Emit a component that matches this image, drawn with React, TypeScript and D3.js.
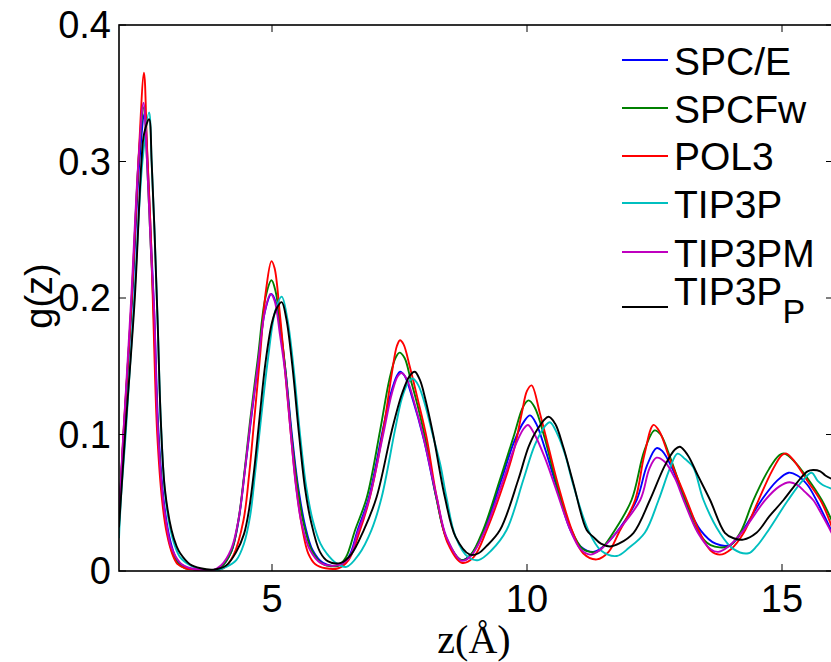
import React from "react";
import * as d3 from "d3";

type Pt = [number, number];

const seriesNames = ["SPC/E", "SPCFw", "POL3", "TIP3P", "TIP3PM", "TIP3P_P"];
const seriesColors = ["#0000ff", "#008000", "#ff0000", "#00bfbf", "#bf00bf", "#000000"];
const xTicks = [5, 10, 15];
const yTicks = [0, 0.1, 0.2, 0.3, 0.4];
const yTickLabels = ["0", "0.1", "0.2", "0.3", "0.4"];

const spce: Pt[] = [[2.0,0.04],[2.09,0.1],[2.26,0.2],[2.4,0.3],[2.5,0.335],[2.56,0.3],[2.63,0.24],[2.69,0.19],[2.77,0.105],[2.87,0.054],[2.96,0.03],[3.05,0.016],[3.15,0.007],[3.3,0.003],[3.5,0.001],[3.75,0.0],[4.0,0.003],[4.2,0.014],[4.34,0.036],[4.47,0.074],[4.57,0.105],[4.72,0.15],[4.86,0.19],[4.99,0.203],[5.08,0.196],[5.18,0.172],[5.27,0.145],[5.39,0.1],[5.5,0.065],[5.65,0.033],[5.8,0.015],[6.0,0.006],[6.3,0.004],[6.5,0.01],[6.68,0.03],[6.9,0.054],[7.17,0.103],[7.33,0.13],[7.45,0.143],[7.51,0.146],[7.6,0.143],[7.75,0.127],[7.98,0.096],[8.22,0.054],[8.42,0.024],[8.7,0.008],[8.9,0.012],[9.16,0.03],[9.5,0.067],[9.75,0.095],[9.95,0.11],[10.06,0.114],[10.18,0.108],[10.35,0.09],[10.57,0.063],[10.85,0.03],[11.05,0.018],[11.3,0.014],[11.5,0.018],[11.75,0.028],[12.15,0.052],[12.35,0.077],[12.54,0.09],[12.65,0.088],[12.85,0.075],[13.1,0.052],[13.4,0.03],[13.7,0.02],[13.98,0.019],[14.2,0.028],[14.6,0.052],[14.9,0.066],[15.13,0.072],[15.3,0.07],[15.5,0.063],[15.7,0.05],[16,0.027]];

const spcfw: Pt[] = [[2.0,0.035],[2.09,0.1],[2.25,0.2],[2.4,0.31],[2.49,0.34],[2.55,0.3],[2.62,0.24],[2.68,0.19],[2.76,0.105],[2.86,0.052],[2.95,0.028],[3.05,0.013],[3.15,0.006],[3.3,0.002],[3.5,0.001],[3.75,0],[4.0,0.003],[4.2,0.014],[4.34,0.037],[4.47,0.076],[4.57,0.11],[4.72,0.155],[4.87,0.2],[4.99,0.213],[5.07,0.205],[5.17,0.178],[5.27,0.145],[5.38,0.1],[5.5,0.062],[5.62,0.035],[5.78,0.015],[6.0,0.005],[6.3,0.004],[6.45,0.01],[6.63,0.03],[6.86,0.054],[7.12,0.103],[7.3,0.14],[7.42,0.156],[7.5,0.16],[7.6,0.156],[7.72,0.14],[7.85,0.122],[8.0,0.098],[8.22,0.054],[8.42,0.024],[8.72,0.008],[8.9,0.012],[9.14,0.03],[9.47,0.067],[9.75,0.1],[9.92,0.12],[10.03,0.125],[10.15,0.12],[10.35,0.097],[10.57,0.065],[10.85,0.032],[11.1,0.016],[11.37,0.014],[11.5,0.018],[11.69,0.028],[12.05,0.052],[12.3,0.088],[12.5,0.103],[12.62,0.1],[12.8,0.084],[13.1,0.052],[13.35,0.029],[13.6,0.019],[13.95,0.018],[14.18,0.028],[14.44,0.052],[14.75,0.075],[14.95,0.085],[15.05,0.086],[15.25,0.08],[15.5,0.068],[15.78,0.052],[16,0.035]];

const pol3: Pt[] = [[2.0,0.035],[2.085,0.1],[2.17,0.15],[2.25,0.2],[2.38,0.3],[2.49,0.365],[2.55,0.31],[2.62,0.25],[2.67,0.19],[2.75,0.1],[2.85,0.05],[2.94,0.027],[3.05,0.012],[3.15,0.005],[3.3,0.002],[3.5,0.001],[3.8,0],[4.05,0.002],[4.25,0.012],[4.44,0.037],[4.55,0.07],[4.65,0.11],[4.76,0.155],[4.88,0.205],[4.99,0.227],[5.05,0.222],[5.15,0.19],[5.26,0.145],[5.37,0.1],[5.48,0.06],[5.6,0.03],[5.71,0.013],[5.85,0.005],[6.05,0.002],[6.3,0.002],[6.5,0.008],[6.7,0.027],[6.92,0.054],[7.18,0.103],[7.35,0.145],[7.45,0.165],[7.51,0.169],[7.58,0.166],[7.7,0.15],[7.85,0.127],[8.03,0.098],[8.23,0.054],[8.45,0.02],[8.72,0.006],[8.95,0.01],[9.21,0.03],[9.57,0.067],[9.76,0.091],[9.9,0.116],[10.0,0.132],[10.09,0.136],[10.25,0.116],[10.42,0.091],[10.61,0.063],[10.88,0.03],[11.1,0.013],[11.37,0.0085],[11.6,0.014],[11.8,0.028],[12.12,0.052],[12.3,0.085],[12.48,0.107],[12.6,0.102],[12.8,0.082],[13.13,0.052],[13.39,0.028],[13.6,0.015],[13.78,0.012],[14.0,0.016],[14.25,0.028],[14.54,0.052],[14.8,0.073],[15.0,0.085],[15.09,0.086],[15.25,0.08],[15.5,0.066],[15.78,0.05],[16,0.03]];

const tip3p: Pt[] = [[2.0,0.024],[2.04,0.054],[2.13,0.1],[2.3,0.2],[2.46,0.3],[2.59,0.336],[2.64,0.3],[2.7,0.245],[2.76,0.18],[2.82,0.11],[2.9,0.058],[3.0,0.032],[3.1,0.018],[3.2,0.01],[3.4,0.004],[3.6,0.001],[3.85,0],[4.1,0.003],[4.3,0.008],[4.45,0.02],[4.57,0.04],[4.67,0.072],[4.78,0.11],[4.92,0.155],[5.06,0.19],[5.19,0.201],[5.3,0.185],[5.42,0.15],[5.55,0.1],[5.67,0.062],[5.8,0.037],[5.95,0.02],[6.07,0.013],[6.25,0.006],[6.46,0.003],[6.7,0.012],[6.95,0.03],[7.15,0.054],[7.41,0.103],[7.55,0.127],[7.67,0.138],[7.76,0.141],[7.87,0.136],[8.0,0.122],[8.15,0.1],[8.3,0.078],[8.42,0.054],[8.6,0.025],[8.85,0.01],[9.05,0.008],[9.3,0.015],[9.6,0.03],[9.93,0.067],[10.15,0.092],[10.35,0.106],[10.45,0.109],[10.6,0.1],[10.75,0.085],[10.9,0.064],[11.2,0.03],[11.45,0.015],[11.76,0.011],[12.0,0.017],[12.31,0.028],[12.58,0.052],[12.8,0.075],[12.95,0.086],[13.1,0.082],[13.26,0.076],[13.46,0.052],[13.78,0.028],[14.05,0.016],[14.34,0.013],[14.5,0.018],[14.7,0.028],[15.12,0.052],[15.4,0.066],[15.58,0.072],[15.7,0.066],[15.8,0.063],[16,0.06]];

const tip3pm: Pt[] = [[2.0,0.042],[2.085,0.1],[2.24,0.2],[2.38,0.3],[2.48,0.343],[2.55,0.3],[2.62,0.24],[2.69,0.19],[2.76,0.105],[2.86,0.054],[2.95,0.03],[3.02,0.018],[3.2,0.006],[3.4,0.002],[3.6,0.001],[3.8,0],[4.0,0.004],[4.2,0.016],[4.34,0.037],[4.47,0.074],[4.58,0.11],[4.72,0.15],[4.86,0.19],[4.97,0.203],[5.05,0.198],[5.16,0.172],[5.26,0.145],[5.37,0.1],[5.47,0.062],[5.58,0.035],[5.75,0.015],[5.95,0.006],[6.25,0.004],[6.5,0.009],[6.68,0.028],[6.9,0.052],[7.18,0.1],[7.35,0.13],[7.47,0.143],[7.55,0.145],[7.65,0.14],[7.8,0.122],[7.97,0.098],[8.23,0.054],[8.42,0.025],[8.72,0.0075],[8.9,0.011],[9.18,0.03],[9.52,0.065],[9.75,0.09],[9.93,0.104],[10.02,0.107],[10.15,0.1],[10.35,0.083],[10.55,0.062],[10.85,0.03],[11.05,0.016],[11.24,0.012],[11.45,0.016],[11.75,0.028],[12.22,0.052],[12.4,0.075],[12.54,0.083],[12.7,0.08],[12.9,0.068],[13.07,0.052],[13.35,0.028],[13.6,0.016],[13.75,0.014],[13.95,0.018],[14.25,0.03],[14.67,0.052],[14.95,0.062],[15.15,0.065],[15.3,0.063],[15.45,0.058],[15.61,0.052],[15.8,0.04],[16,0.026]];

const tip3pP: Pt[] = [[2.0,0.032],[2.12,0.1],[2.31,0.2],[2.44,0.3],[2.49,0.32],[2.59,0.331],[2.64,0.3],[2.7,0.245],[2.76,0.18],[2.82,0.11],[2.9,0.06],[3.03,0.03],[3.13,0.018],[3.2,0.013],[3.39,0.005],[3.6,0.002],[3.85,0.001],[4.1,0.004],[4.3,0.014],[4.45,0.027],[4.55,0.045],[4.65,0.074],[4.75,0.11],[4.87,0.152],[5.0,0.182],[5.1,0.193],[5.19,0.197],[5.28,0.185],[5.4,0.15],[5.53,0.1],[5.65,0.06],[5.76,0.037],[5.94,0.014],[6.1,0.007],[6.35,0.006],[6.55,0.012],[6.8,0.03],[7.05,0.054],[7.35,0.103],[7.55,0.13],[7.7,0.143],[7.8,0.146],[7.9,0.14],[8.0,0.127],[8.16,0.1],[8.39,0.054],[8.6,0.025],[8.88,0.012],[9.05,0.013],[9.2,0.018],[9.47,0.03],[9.83,0.067],[10.03,0.091],[10.19,0.103],[10.42,0.113],[10.55,0.108],[10.71,0.091],[10.91,0.064],[11.17,0.03],[11.3,0.025],[11.45,0.02],[11.63,0.018],[11.8,0.02],[12.09,0.028],[12.41,0.052],[12.7,0.077],[12.9,0.089],[13.0,0.091],[13.15,0.085],[13.35,0.07],[13.59,0.052],[13.88,0.028],[14.05,0.024],[14.24,0.023],[14.5,0.028],[14.75,0.04],[15.03,0.052],[15.3,0.065],[15.5,0.073],[15.61,0.074],[15.75,0.073],[15.85,0.07],[16,0.067]];

const allSeries = [spce, spcfw, pol3, tip3p, tip3pm, tip3pP];

const W = 831;
const H = 662;
const left = 119;
const right = 833;
const top = 25;
const bottom = 571;

export default function App() {
  const x = d3.scaleLinear().domain([2, 16]).range([left, right]);
  const y = d3.scaleLinear().domain([0, 0.4]).range([bottom, top]);
  const line = d3
    .line<Pt>()
    .x((d) => x(d[0]))
    .y((d) => y(d[1]))
    .curve(d3.curveCatmullRom.alpha(0.5));
  const font = "'Liberation Sans', Arial, Helvetica, sans-serif";
  const tickLen = 7;
  const legendRows = [60, 108, 156, 203, 252, 307];
  const legendBase = [75, 123, 170, 218, 267, 305];

  return (
    <svg
      width={W}
      height={H}
      style={{ position: "absolute", left: 0, top: 0, background: "#fff" }}
      fontFamily={font}
    >
      <rect x={0} y={0} width={W} height={H} fill="#fff" />
      <defs>
        <clipPath id="plotclip">
          <rect x={left} y={top} width={right - left} height={bottom - top} />
        </clipPath>
      </defs>
      <g clipPath="url(#plotclip)">
        {allSeries.map((s, i) => (
          <path
            key={i}
            d={line(s) || ""}
            fill="none"
            stroke={seriesColors[i]}
            strokeWidth={1.9}
            strokeLinejoin="round"
          />
        ))}
      </g>
      <rect x={left} y={top} width={right - left} height={bottom - top} fill="none" stroke="#000" strokeWidth={1.6} />
      {xTicks.map((t) => (
        <g key={"x" + t}>
          <line x1={x(t)} x2={x(t)} y1={bottom} y2={bottom - tickLen} stroke="#000" strokeWidth={1} />
          <line x1={x(t)} x2={x(t)} y1={top} y2={top + tickLen} stroke="#000" strokeWidth={1} />
          <text x={x(t)} y={612} textAnchor="middle" fontSize={38} fill="#000">
            {t}
          </text>
        </g>
      ))}
      {yTicks.map((t, i) => (
        <g key={"y" + t}>
          <line x1={left} x2={left + tickLen} y1={y(t)} y2={y(t)} stroke="#000" strokeWidth={1} />
          <line x1={right} x2={right - tickLen} y1={y(t)} y2={y(t)} stroke="#000" strokeWidth={1} />
          <text x={111} y={y(t) + 13} textAnchor="end" fontSize={38} fill="#000">
            {yTickLabels[i]}
          </text>
        </g>
      ))}
      <text transform={`translate(52,296) rotate(-90)`} textAnchor="middle" fontSize={38} fill="#000">
        g(z)
      </text>
      <text
        x={474}
        y={653}
        textAnchor="middle"
        fontSize={40}
        fontFamily="'Liberation Serif', 'DejaVu Serif', serif"
        fill="#000"
      >
        z(Å)
      </text>
      {seriesNames.map((n, i) => (
        <g key={n}>
          <line x1={622} x2={668} y1={legendRows[i]} y2={legendRows[i]} stroke={seriesColors[i]} strokeWidth={1.8} />
          {n === "TIP3P_P" ? (
            <text x={674} y={legendBase[i]} fontSize={39} fill="#000">
              TIP3P
              <tspan dy={18} fontSize={34}>
                P
              </tspan>
            </text>
          ) : (
            <text x={674} y={legendBase[i]} fontSize={39} fill="#000">
              {n}
            </text>
          )}
        </g>
      ))}
    </svg>
  );
}
